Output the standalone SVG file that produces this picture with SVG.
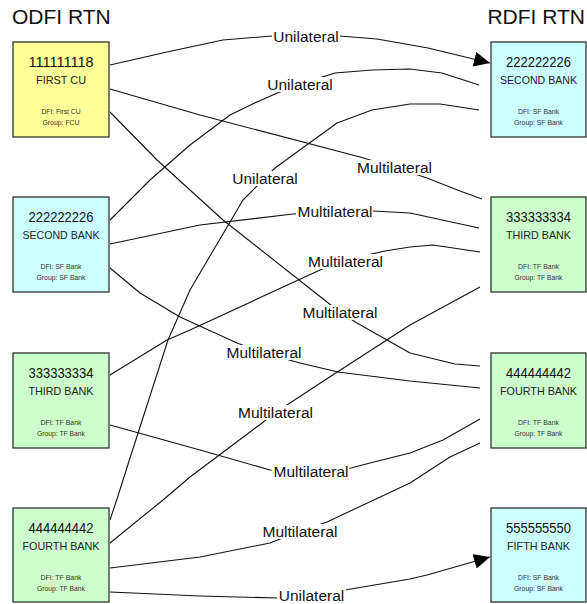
<svg xmlns="http://www.w3.org/2000/svg" width="587" height="604" viewBox="0 0 587 604">
<defs>
<style>
.title{font-family:"Liberation Sans",Arial,sans-serif;font-size:21px;fill:#111}
.box{stroke:#333;stroke-width:1.3}
.yel{fill:#FFFF99}.cya{fill:#CCFFFF}.grn{fill:#CCFFCC}
.num{font-family:"Liberation Sans",Arial,sans-serif;font-size:15px;fill:#111;text-anchor:middle}
.nm{font-family:"Liberation Sans",Arial,sans-serif;font-size:11.5px;fill:#222;text-anchor:middle}
.sm{font-family:"Liberation Sans",Arial,sans-serif;font-size:7.5px;fill:#333;text-anchor:middle}
.ln{fill:none;stroke:#111;stroke-width:1.1;stroke-linejoin:round}
.lbg{fill:#fff}
.lb{font-family:"Liberation Sans",Arial,sans-serif;font-size:15.5px;fill:#111;text-anchor:middle}
</style>
<marker id="arr" markerUnits="userSpaceOnUse" markerWidth="18" markerHeight="16" refX="16" refY="7.5" orient="auto">
<path d="M0,0 L16,7.5 L0,15 z" fill="#000"/>
</marker>
</defs>
<text class="title" x="12" y="24">ODFI RTN</text>
<text class="title" x="585" y="24" text-anchor="end">RDFI RTN</text>

<g id="connectors">
<path class="ln" marker-end="url(#arr)" d="M110,65 L167,52 L223,40 L272,36 L306,36 L340,36 L377,39 L428,48 L490,63"/>
<path class="ln" d="M110,89 L200,115 L360,157 L394,167 L427,178 L460,191 L482,199"/>
<path class="ln" d="M110,112 L157,160 L223,220 L327,302 L340,312 L357,323 L410,353 L455,364 L480,366"/>
<path class="ln" d="M110,220 L150,180 L190,145 L230,115 L257,102 L275,94 L300,84 L335,73 L372,70 L410,69 L442,73 L479,85"/>
<path class="ln" d="M110,520 L118,496 L130,458 L168,340 L190,290 L243,200 L265,178 L275,168 L337,123 L372,110 L410,104 L440,104 L479,110"/>
<path class="ln" d="M110,375 L167,340 L190,330 L320,270 L345,260 L385,251 L410,247 L433,245 L480,252"/>
<path class="ln" d="M110,244 L200,225 L293,214 L335,211 L373,211 L410,213 L433,218 L479,228"/>
<path class="ln" d="M110,268 L140,293 L180,317 L237,343 L264,353 L300,363 L338,372 L410,381 L480,388"/>
<path class="ln" d="M110,425 L200,450 L270,470 L311,471 L351,468 L370,463 L410,453 L443,440 L480,419"/>
<path class="ln" d="M110,543 L163,500 L190,477 L262,423 L276,412 L290,403 L325,380 L410,325 L480,287"/>
<path class="ln" d="M110,568 L200,557 L270,543 L300,531 L327,522 L410,483 L450,457 L480,443"/>
<path class="ln" marker-end="url(#arr)" d="M110,592 L200,596 L278,598 L311,596 L345,590 L410,579 L427,575 L490,557"/>

<rect class="lbg" x="272" y="29" width="68" height="15"/><text class="lb" x="306" y="42">Unilateral</text>
<rect class="lbg" x="266" y="77" width="68" height="15"/><text class="lb" x="300" y="90">Unilateral</text>
<rect class="lbg" x="356" y="160" width="77" height="15"/><text class="lb" x="394.5" y="173">Multilateral</text>
<rect class="lbg" x="231" y="171" width="68" height="15"/><text class="lb" x="265" y="184">Unilateral</text>
<rect class="lbg" x="296" y="204" width="77" height="15"/><text class="lb" x="335" y="217">Multilateral</text>
<rect class="lbg" x="307" y="254" width="77" height="15"/><text class="lb" x="345.5" y="267">Multilateral</text>
<rect class="lbg" x="301" y="305" width="77" height="15"/><text class="lb" x="340" y="318">Multilateral</text>
<rect class="lbg" x="225" y="345" width="77" height="15"/><text class="lb" x="264" y="358">Multilateral</text>
<rect class="lbg" x="237" y="405" width="77" height="15"/><text class="lb" x="275.5" y="418">Multilateral</text>
<rect class="lbg" x="272" y="464" width="77" height="15"/><text class="lb" x="311" y="477">Multilateral</text>
<rect class="lbg" x="261" y="524" width="77" height="15"/><text class="lb" x="300" y="537">Multilateral</text>
<rect class="lbg" x="277" y="588" width="69" height="15"/><text class="lb" x="311.5" y="601">Unilateral</text>
</g>

<g id="odfi-111111118">
<rect class="box yel" x="13" y="42" width="96" height="95"/>
<text class="num" x="61" y="67" textLength="65" lengthAdjust="spacingAndGlyphs">111111118</text>
<text class="nm" x="61" y="84" textLength="50" lengthAdjust="spacingAndGlyphs">FIRST CU</text>
<text class="sm" x="61" y="114" textLength="39" lengthAdjust="spacingAndGlyphs">DFI: First CU</text>
<text class="sm" x="61" y="125" textLength="37" lengthAdjust="spacingAndGlyphs">Group: FCU</text>
</g>
<g id="odfi-222222226">
<rect class="box cya" x="13" y="197" width="96" height="95"/>
<text class="num" x="61" y="222" textLength="65" lengthAdjust="spacingAndGlyphs">222222226</text>
<text class="nm" x="61" y="239" textLength="77" lengthAdjust="spacingAndGlyphs">SECOND BANK</text>
<text class="sm" x="61" y="269" textLength="41" lengthAdjust="spacingAndGlyphs">DFI: SF Bank</text>
<text class="sm" x="61" y="280" textLength="49" lengthAdjust="spacingAndGlyphs">Group: SF Bank</text>
</g>
<g id="odfi-333333334">
<rect class="box grn" x="13" y="353" width="96" height="95"/>
<text class="num" x="61" y="378" textLength="65" lengthAdjust="spacingAndGlyphs">333333334</text>
<text class="nm" x="61" y="395" textLength="65" lengthAdjust="spacingAndGlyphs">THIRD BANK</text>
<text class="sm" x="61" y="425" textLength="41" lengthAdjust="spacingAndGlyphs">DFI: TF Bank</text>
<text class="sm" x="61" y="436" textLength="48" lengthAdjust="spacingAndGlyphs">Group: TF Bank</text>
</g>
<g id="odfi-444444442">
<rect class="box grn" x="13" y="508" width="96" height="94"/>
<text class="num" x="61" y="533" textLength="65" lengthAdjust="spacingAndGlyphs">444444442</text>
<text class="nm" x="61" y="550" textLength="77" lengthAdjust="spacingAndGlyphs">FOURTH BANK</text>
<text class="sm" x="61" y="580" textLength="41" lengthAdjust="spacingAndGlyphs">DFI: TF Bank</text>
<text class="sm" x="61" y="591" textLength="48" lengthAdjust="spacingAndGlyphs">Group: TF Bank</text>
</g>

<g id="rdfi-222222226">
<rect class="box cya" x="491" y="42" width="95" height="95"/>
<text class="num" x="538.5" y="67" textLength="65" lengthAdjust="spacingAndGlyphs">222222226</text>
<text class="nm" x="538.5" y="84" textLength="77" lengthAdjust="spacingAndGlyphs">SECOND BANK</text>
<text class="sm" x="538.5" y="114" textLength="41" lengthAdjust="spacingAndGlyphs">DFI: SF Bank</text>
<text class="sm" x="538.5" y="125" textLength="49" lengthAdjust="spacingAndGlyphs">Group: SF Bank</text>
</g>
<g id="rdfi-333333334">
<rect class="box grn" x="491" y="197" width="95" height="95"/>
<text class="num" x="538.5" y="222" textLength="65" lengthAdjust="spacingAndGlyphs">333333334</text>
<text class="nm" x="538.5" y="239" textLength="65" lengthAdjust="spacingAndGlyphs">THIRD BANK</text>
<text class="sm" x="538.5" y="269" textLength="41" lengthAdjust="spacingAndGlyphs">DFI: TF Bank</text>
<text class="sm" x="538.5" y="280" textLength="48" lengthAdjust="spacingAndGlyphs">Group: TF Bank</text>
</g>
<g id="rdfi-444444442">
<rect class="box grn" x="491" y="353" width="95" height="95"/>
<text class="num" x="538.5" y="378" textLength="65" lengthAdjust="spacingAndGlyphs">444444442</text>
<text class="nm" x="538.5" y="395" textLength="77" lengthAdjust="spacingAndGlyphs">FOURTH BANK</text>
<text class="sm" x="538.5" y="425" textLength="41" lengthAdjust="spacingAndGlyphs">DFI: TF Bank</text>
<text class="sm" x="538.5" y="436" textLength="48" lengthAdjust="spacingAndGlyphs">Group: TF Bank</text>
</g>
<g id="rdfi-555555550">
<rect class="box cya" x="491" y="508" width="95" height="94"/>
<text class="num" x="538.5" y="533" textLength="65" lengthAdjust="spacingAndGlyphs">555555550</text>
<text class="nm" x="538.5" y="550" textLength="63" lengthAdjust="spacingAndGlyphs">FIFTH BANK</text>
<text class="sm" x="538.5" y="580" textLength="41" lengthAdjust="spacingAndGlyphs">DFI: SF Bank</text>
<text class="sm" x="538.5" y="591" textLength="49" lengthAdjust="spacingAndGlyphs">Group: SF Bank</text>
</g>
</svg>
